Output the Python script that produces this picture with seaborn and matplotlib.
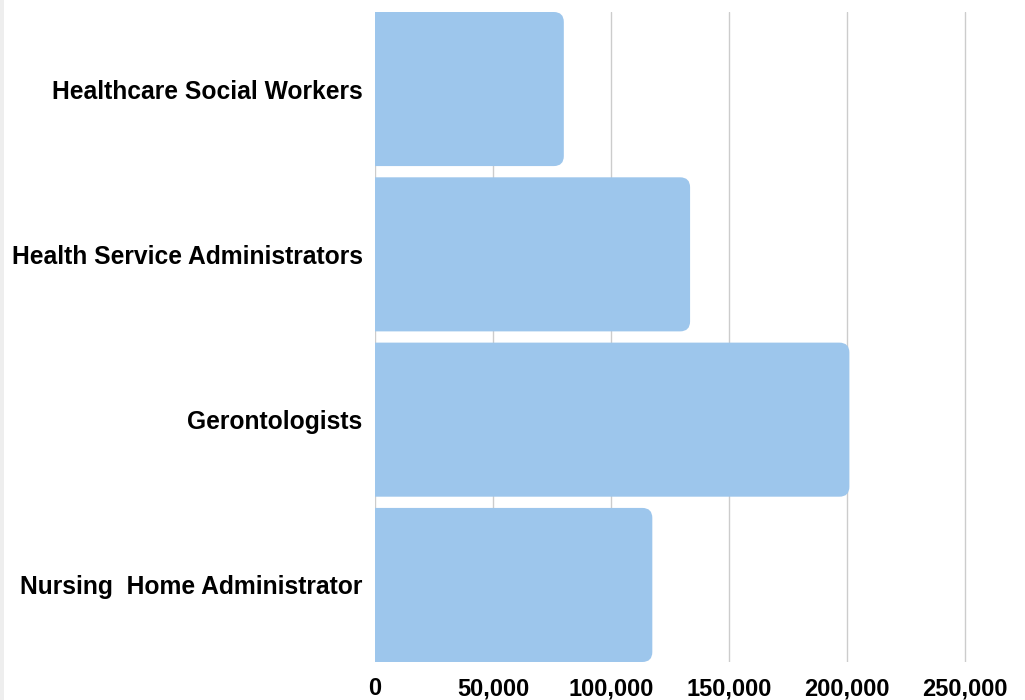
import matplotlib
matplotlib.use("Agg")
import matplotlib.pyplot as plt
import seaborn as sns
import pandas as pd
from matplotlib.patches import FancyBboxPatch, Rectangle
from matplotlib.ticker import FuncFormatter

# values
occupations = ["Healthcare Social Workers", "Health Service Administrators",
               "Gerontologists", "Nursing  Home Administrator"]
jobs = [80000, 133500, 201000, 117500]
x_ticks = [0, 50000, 100000, 150000, 200000, 250000]

BAR = "#9dc6ec"
BAR_W = 0.932

sns.set_theme(style="white")
plt.rcParams["font.family"] = ["Liberation Sans", "DejaVu Sans"]

df = pd.DataFrame({"occupation": occupations, "jobs": jobs})

fig = plt.figure(figsize=(10.25, 7), dpi=100)
ax = fig.add_axes([375 / 1025, 1 - 662 / 700, 1 - 375 / 1025, 650 / 700])

sns.barplot(data=df, x="jobs", y="occupation", color=BAR, width=BAR_W,
            saturation=1, ax=ax, zorder=2)
ax.set_xlim(0, 275400)
ax.set_ylim(3 + BAR_W / 2, -BAR_W / 2)

# swap plain bars for ones with rounded right corners
# (left corners hang past x=0 and get clipped off)
x_per_px = 50000 / 118
y_per_px = (3 + BAR_W) / 650
aspect = y_per_px / x_per_px
r = 10 * x_per_px
for p in list(ax.patches):
    x0, y0, w, h = p.get_x(), p.get_y(), p.get_width(), p.get_height()
    p.remove()
    ax.add_patch(FancyBboxPatch((x0 - 4 * r, y0), w + 4 * r, h,
                                boxstyle=f"round,pad=0,rounding_size={r}",
                                mutation_aspect=aspect, fc=BAR, ec="none", zorder=2))

ax.set_xticks(x_ticks)
ax.xaxis.set_major_formatter(FuncFormatter(lambda v, _: f"{int(v):,}"))
ax.grid(axis="x", color="#cccccc", linewidth=1, zorder=0)
ax.grid(axis="y", visible=False)
ax.set_axisbelow(True)
for s in ax.spines.values():
    s.set_visible(False)
ax.tick_params(axis="x", length=0, pad=11, labelsize=17)
ax.tick_params(axis="y", length=0, pad=9, labelsize=17.7)
for lbl in ax.get_xticklabels() + ax.get_yticklabels():
    lbl.set_fontweight("bold")
    lbl.set_color("black")
ax.set_xlabel("")
ax.set_ylabel("")

fig.patches.append(Rectangle((0, 0), 4 / 1025, 1, transform=fig.transFigure,
                             fc="#eeeeee", ec="none", zorder=-1))

fig.savefig("out.png", dpi=100)
